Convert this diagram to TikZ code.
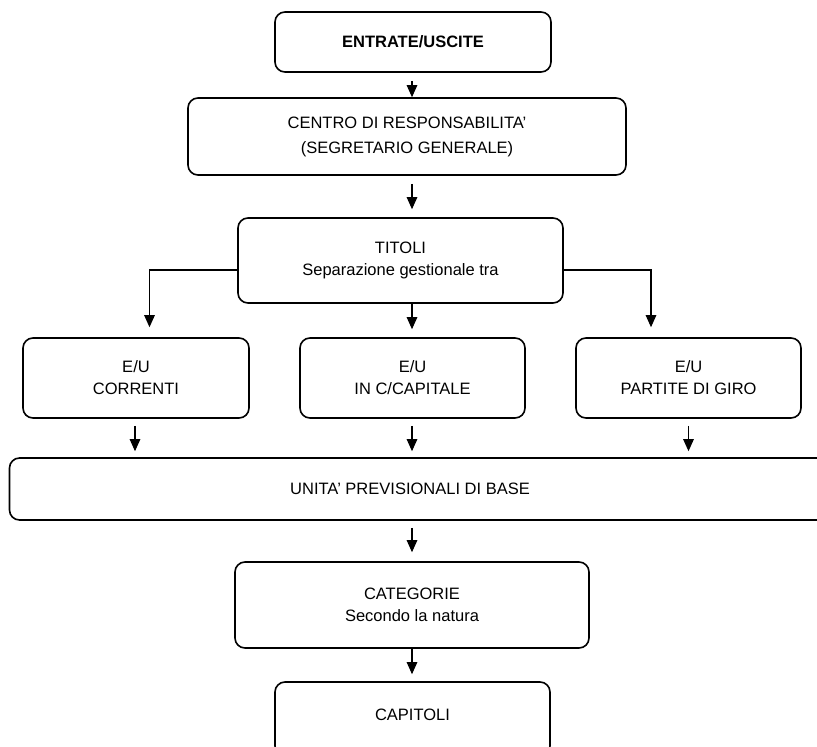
\documentclass[tikz,border=0pt]{standalone}
\usepackage{fontspec}
\setmainfont{Liberation Sans}
\usetikzlibrary{arrows.meta}
\tikzset{
  box/.style={draw, line width=1.6pt, rounded corners=10pt, align=center, inner sep=0pt,
    font={\fontsize{16.5}{22}\selectfont}},
  txt/.style={align=center, inner sep=0pt, font={\fontsize{16.5}{22}\selectfont}},
  arr/.style={-{Triangle[length=12pt,width=10.5pt]}, line width=1.1pt},
}
\begin{document}
\begin{tikzpicture}[x=1pt, y=-1pt]
\useasboundingbox (0,0) rectangle (817,747);
\node[box, minimum width=276pt, minimum height=60pt] (ent) at (413,42) {\textbf{ENTRATE/USCITE}};
\node[box, minimum width=438pt, minimum height=77pt, font={\fontsize{16.5}{25}\selectfont}] (cen) at (407,136.5) {CENTRO DI RESPONSABILITA’\\(SEGRETARIO GENERALE)};
\node[box, minimum width=325pt, minimum height=85pt] (tit) at (400.5,260.5) {TITOLI\\Separazione gestionale tra};
\node[box, minimum width=226pt, minimum height=80pt] (eu1) at (136,378) {E/U\\CORRENTI};
\node[box, minimum width=225pt, minimum height=80pt] (eu2) at (412.5,378) {E/U\\IN C/CAPITALE};
\node[box, minimum width=225pt, minimum height=80pt] (eu3) at (688.5,378) {E/U\\PARTITE DI GIRO};
\node[box, minimum width=821pt, minimum height=62pt] (uni) at (420,489) {};
\node[txt] (unitxt) at (410,489) {UNITA’ PREVISIONALI DI BASE};
\node[box, minimum width=354pt, minimum height=86pt] (cat) at (412,605) {CATEGORIE\\Secondo la natura};
\node[box, minimum width=275pt, minimum height=74pt] (cap) at (412.5,719) {};
\node[txt] (captxt) at (412.5,715) {CAPITOLI};
\coordinate (ax) at (412,0);
\draw[arr, shorten <=8pt] (ax |- ent.south) -- (ax |- cen.north);
\draw[arr, shorten <=8pt, shorten >=8pt] (ax |- cen.south) -- (ax |- tit.north);
\draw[arr, shorten >=8pt] (ax |- tit.south) -- (ax |- eu2.north);
\draw[arr, shorten >=10pt] ([yshift=-9.5pt]tit.west) -| ([xshift=13.5pt]eu1.north);
\draw[arr, shorten >=10pt] ([yshift=-9.5pt]tit.east) -| ([xshift=-37.5pt]eu3.north);
\draw[arr, shorten <=7pt, shorten >=6pt] ([xshift=-1pt]eu1.south) -- ([xshift=-1pt]eu1.south |- uni.north);
\draw[arr, shorten <=7pt, shorten >=6pt] (ax |- eu2.south) -- (ax |- uni.north);
\draw[arr, shorten <=7pt, shorten >=6pt] (eu3.south) -- (eu3.south |- uni.north);
\draw[arr, shorten <=7pt, shorten >=9pt] (ax |- uni.south) -- (ax |- cat.north);
\draw[arr, shorten >=7pt] (ax |- cat.south) -- (ax |- cap.north);
\end{tikzpicture}
\end{document}
